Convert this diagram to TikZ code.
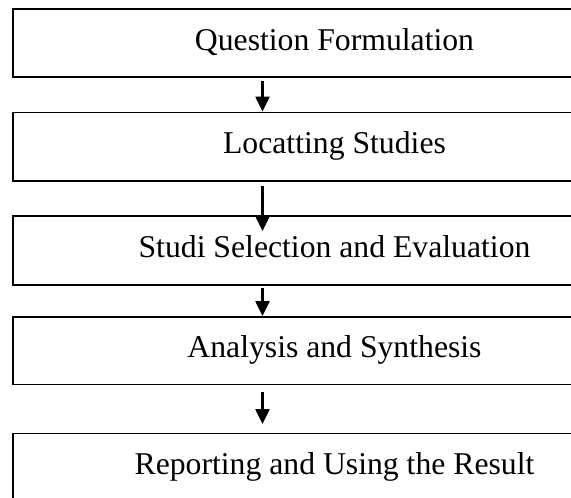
\documentclass[tikz,border=0pt]{standalone}
\usepackage{fontspec}
\setmainfont{Liberation Serif}
\usetikzlibrary{arrows.meta}
\begin{document}
\begin{tikzpicture}[x=1pt,y=-1pt,
  stagebox/.style={draw=black,line width=1.8pt,rectangle,minimum width=643pt,
    inner sep=0pt,text height=20pt,text depth=6pt,
    font=\fontsize{31.7}{38}\selectfont},
  flow/.style={draw=black,line width=2.2pt,
    -{Triangle[length=15pt,width=14pt]}}]
\useasboundingbox (0,0) rectangle (571,498);
\fill[white] (0,0) rectangle (571,498);
\clip (0,0) rectangle (571,498);
% stages of the review process
\node[stagebox,minimum height=68pt]   (q) at (334.5,43)    {Question Formulation};
\node[stagebox,minimum height=68.5pt] (l) at (334.5,146.75) {Locatting Studies};
\node[stagebox,minimum height=69pt]   (s) at (334.5,250.5)  {Studi Selection and Evaluation};
\node[stagebox,minimum height=67.5pt] (a) at (334.5,350.75) {Analysis and Synthesis};
\node[stagebox,minimum height=68pt]   (r) at (334.5,467.5)  {Reporting and Using the Result};
% downward connectors between stages
\draw[flow] ([xshift=-72pt,yshift=-3pt]q.south) -- ([xshift=-72pt]l.north);
\draw[flow] ([xshift=-72pt,yshift=-4pt]l.south) -- ([xshift=-72pt,yshift=-16pt]s.north);
\draw[flow] ([xshift=-72pt,yshift=-2pt]s.south) -- ([xshift=-72pt]a.north);
\draw[flow] ([xshift=-72pt,yshift=-6.5pt]a.south) -- ([xshift=-72pt,yshift=8.5pt]r.north);
\end{tikzpicture}
\end{document}
